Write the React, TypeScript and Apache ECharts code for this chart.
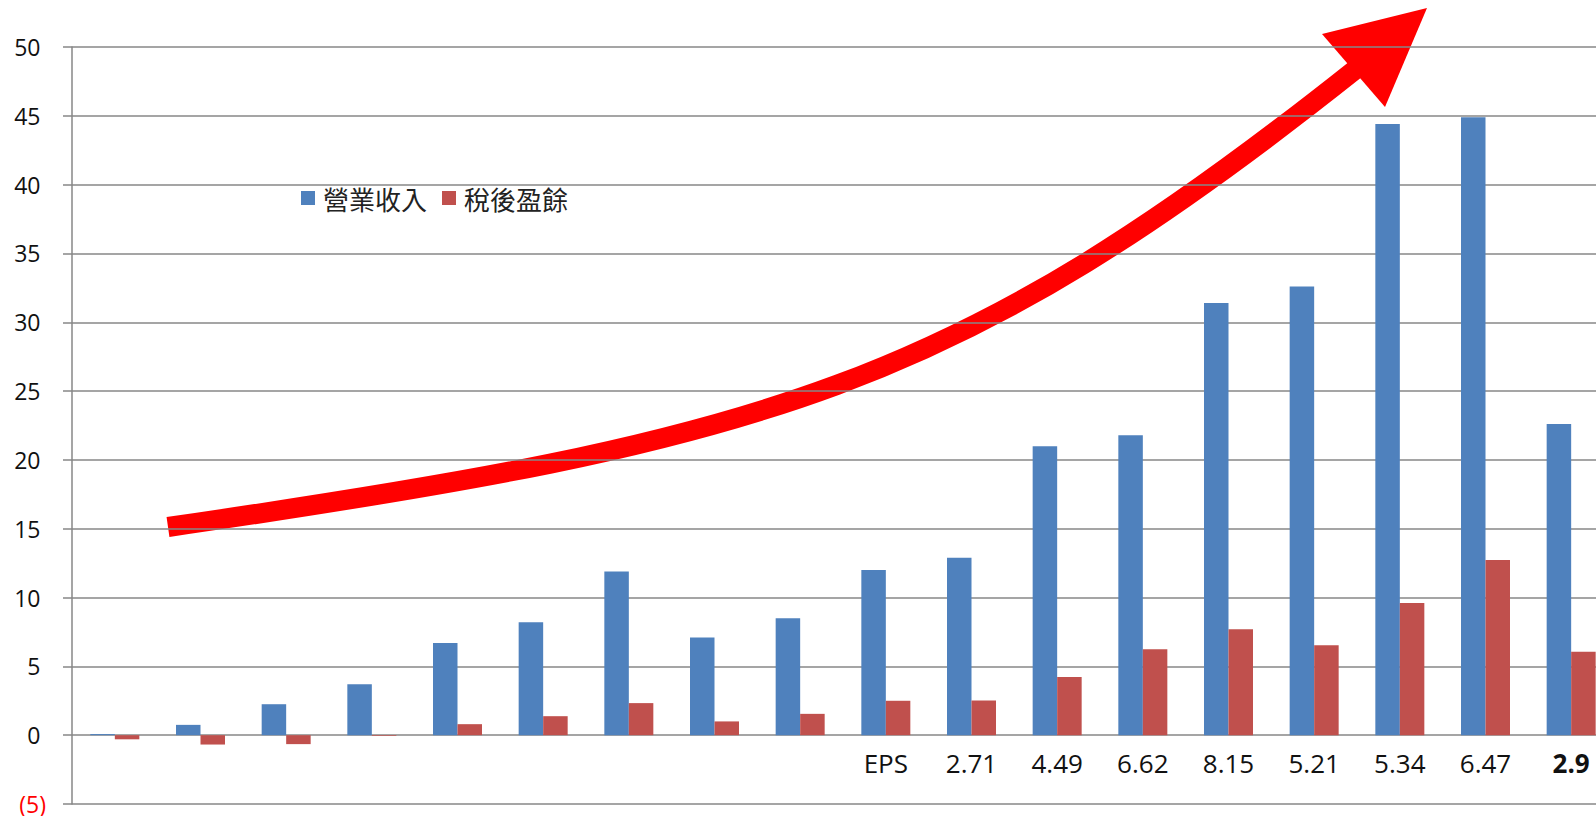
import React, { useEffect, useRef } from "react";
import * as echarts from "echarts";

const revenue = [0.08, 0.75, 2.25, 3.7, 6.7, 8.2, 11.9, 7.1, 8.5, 12.0, 12.9, 21.0, 21.8, 31.4, 32.6, 44.4, 44.9, 22.6];
const netIncome = [-0.3, -0.68, -0.65, -0.05, 0.8, 1.38, 2.33, 1.0, 1.55, 2.5, 2.52, 4.22, 6.24, 7.69, 6.53, 9.61, 12.72, 6.07];
const epsLabels = ["", "", "", "", "", "", "", "", "", "EPS", "2.71", "4.49", "6.62", "8.15", "5.21", "5.34", "6.47", "2.9"];
const seriesNames = ["營業收入", "稅後盈餘"];
const yTicks = { min: -5, max: 50, interval: 5 };

const GRID = "#878787";

export default function App() {
  const ref = useRef<HTMLDivElement>(null);
  useEffect(() => {
    if (!ref.current) return;
    const chart = echarts.init(ref.current, null, { renderer: "svg" });
    const categories = epsLabels.map((_, i) => String(i + 1));
    chart.setOption({
      animation: false,
      backgroundColor: "#ffffff",
      textStyle: { fontFamily: "'Open Sans', 'Noto Sans CJK TC', sans-serif" },
      grid: { left: 72, top: 47, width: 1542, height: 757, containLabel: false, outerBoundsMode: "none" },
      legend: {
        left: 301,
        top: 185,
        padding: 0,
        itemWidth: 14,
        itemHeight: 14,
        itemGap: 15,
        icon: "rect",
        data: seriesNames,
        textStyle: { fontSize: 26, color: "#222", fontFamily: "'Noto Sans CJK TC', sans-serif", padding: [0, 0, 0, 3] },
      },
      xAxis: {
        type: "category",
        data: categories,
        position: "bottom",
        offset: -69,
        axisLine: { show: false, onZero: false },
        axisTick: { show: false },
        splitLine: { show: false },
        axisLabel: {
          interval: 0,
          margin: 15,
          fontSize: 26,
          color: "#111",
          fontFamily: "'Open Sans', sans-serif",
          formatter: (_v: string, i: number) => (i === epsLabels.length - 1 ? `{b|${epsLabels[i]}}` : epsLabels[i]),
          rich: { b: { fontWeight: "bold", fontSize: 26, color: "#111", fontFamily: "'Open Sans', sans-serif" } },
        },
      },
      yAxis: {
        type: "value",
        min: yTicks.min,
        max: yTicks.max,
        interval: yTicks.interval,
        axisLine: { show: true, lineStyle: { color: GRID, width: 1.5 } },
        axisTick: { show: true, inside: false, length: 9, lineStyle: { color: GRID, width: 1.5 } },
        splitLine: { show: true, lineStyle: { color: GRID, width: 1.5 } },
        axisLabel: {
          margin: 26,
          fontSize: 23,
          color: "#111",
          fontFamily: "'Open Sans', sans-serif",
          formatter: (v: number) => (v < 0 ? `{n|(${Math.abs(v)})}` : `{p|${v}}`),
          rich: {
            p: { fontSize: 23, color: "#111", padding: [0, 5.5, 0, 0], fontFamily: "'Open Sans', sans-serif" },
            n: { fontSize: 23, color: "#ff0000", fontFamily: "'Open Sans', sans-serif" },
          },
        },
      },
      series: [
        {
          name: seriesNames[0],
          type: "bar",
          data: revenue,
          barWidth: 24.5,
          barGap: "0%",
          itemStyle: { color: "#4F81BD" },
        },
        {
          name: seriesNames[1],
          type: "bar",
          data: netIncome,
          barWidth: 24.5,
          barGap: "0%",
          itemStyle: { color: "#C0504D" },
        },
      ],
      graphic: [
        {
          type: "bezierCurve",
          z: -5,
          shape: { x1: 168, y1: 527, cpx1: 768, cpy1: 440, cpx2: 955, cpy2: 388, x2: 1356, y2: 69 },
          style: { stroke: "#ff0000", lineWidth: 20, fill: null, lineCap: "butt" },
        },
        {
          type: "polygon",
          z: -5,
          shape: { points: [[1322, 34], [1427, 8], [1385, 107]] },
          style: { fill: "#ff0000" },
        },
      ],
    });
    return () => chart.dispose();
  }, []);
  return (
    <div
      ref={ref}
      style={{ position: "fixed", left: 0, top: 0, width: 1596, height: 816, overflow: "hidden", background: "#fff" }}
    />
  );
}
